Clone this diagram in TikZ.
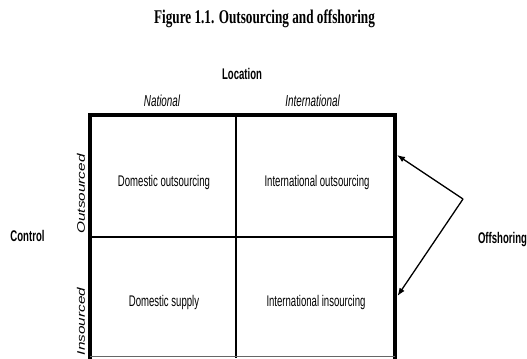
\documentclass[tikz,border=0pt]{standalone}
\usepackage{fontspec}
\setmainfont{Liberation Serif}
\newfontfamily\narrowsans[FakeStretch=0.62]{Liberation Sans}
\newfontfamily\tallsans[FakeStretch=1.4]{Liberation Sans}
\newfontfamily\titleserif[FakeStretch=0.68]{Liberation Serif}
\usetikzlibrary{arrows.meta}
\begin{document}
\begin{tikzpicture}[x=1bp,y=-1bp,
  title/.style={font=\titleserif\bfseries\fontsize{19.5}{20}\selectfont, anchor=base, inner sep=0pt},
  lbl/.style={font=\narrowsans\fontsize{15.5}{16}\selectfont, anchor=base, inner sep=0pt},
  hdr/.style={font=\narrowsans\bfseries\fontsize{15.5}{16}\selectfont, anchor=base, inner sep=0pt},
  col/.style={font=\narrowsans\itshape\fontsize{16}{17}\selectfont, anchor=base, inner sep=0pt},
  row/.style={font=\tallsans\itshape\fontsize{11}{12}\selectfont, rotate=90, anchor=center, inner sep=0pt},
  frame/.style={line width=3.2bp},
  divider/.style={line width=1.2bp},
  arr/.style={line width=1.3bp, -{Latex[length=8bp,width=6bp]}}]
\useasboundingbox (0,0) rectangle (527,358);
% title and headers
\node[title] (ttl) at (264.5,23) {Figure 1.1. Outsourcing and offshoring};
\node[hdr] (loc) at (242,79) {Location};
\node[col] (nat) at (162,106) {National};
\node[col] (intl) at (312.5,106) {International};
\node[hdr] (ctrl) at (27.5,241) {Control};
\node[hdr] (off) at (502.5,243) {Offshoring};
\node[row] (outs) at (81,194) {Outsourced};
\node[row] (ins) at (81,321.5) {Insourced};
% grid
\draw[frame] (90,363) -- (90,115) -- (395,115) -- (395,363);
\draw[divider] (236,115) -- (236,358);
\draw[divider] (90,237) -- (395,237);
\draw[divider, black!60] (90,356.5) -- (395,356.5);
% cells
\node[lbl] (domout) at (164,186) {Domestic outsourcing};
\node[lbl] (intout) at (317,186) {International outsourcing};
\node[lbl] (domsup) at (164,306) {Domestic supply};
\node[lbl] (intins) at (316,306) {International insourcing};
% offshoring arrows
\coordinate (apex) at (463,199);
\coordinate (tipA) at (397,155);
\coordinate (tipB) at (397.5,296);
\draw[arr] (apex) -- (tipA);
\draw[arr] (apex) -- (tipB);
\end{tikzpicture}
\end{document}
